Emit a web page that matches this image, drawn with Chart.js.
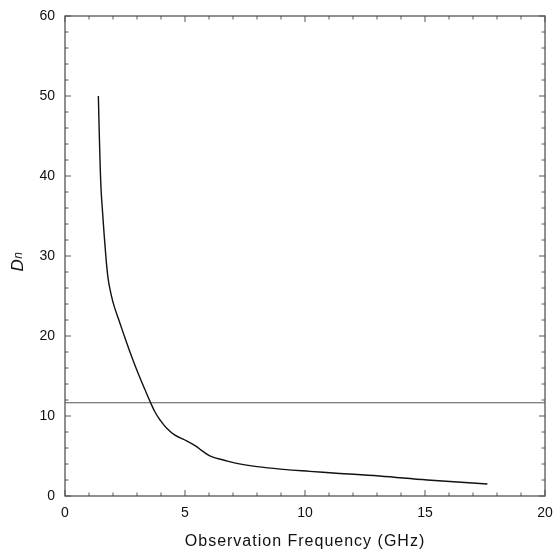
<!DOCTYPE html>
<html>
<head>
<meta charset="utf-8">
<script src="https://cdn.jsdelivr.net/npm/chart.js@4.4.1/dist/chart.umd.min.js"></script>
<style>
  html, body { margin: 0; padding: 0; background: #fff; }
  #wrap { position: relative; width: 554px; height: 558px; }
</style>
</head>
<body>
<div id="wrap"><canvas id="grafico"></canvas></div>
<script>
// datos
var frecuencias = [1.39, 1.44, 1.50, 1.57, 1.67, 1.79, 1.92, 2.05, 2.29, 2.53, 2.78, 3.05, 3.33, 3.56, 3.75, 3.96, 4.24, 4.58, 5.0, 5.42, 5.76, 6.11, 6.6, 7.15, 8.0, 9.1, 10.2, 11.3, 13.1, 15.1, 17.6];
var valoresDn = [50.0, 44.0, 38.5, 35.3, 31.2, 27.3, 25.2, 23.7, 21.6, 19.5, 17.4, 15.3, 13.3, 11.7, 10.5, 9.5, 8.46, 7.6, 7.0, 6.29, 5.54, 4.91, 4.5, 4.08, 3.67, 3.33, 3.08, 2.85, 2.5, 2.0, 1.5];
var umbralX = [0, 20];
var umbralY = [11.66, 11.66];
var ticksX = [0, 5, 10, 15, 20];
var ticksY = [0, 10, 20, 30, 40, 50, 60];

var colorEje = '#555555';
var fuente = "'Liberation Sans', Arial, sans-serif";

function armarPuntos(xs, ys) {
    var pts = [];
    for (var i = 0; i < xs.length; i++) {
        pts.push({ x: xs[i], y: ys[i] });
    }
    return pts;
}

// marco, ticks hacia dentro y titulos de ejes
const marcoPlugin = {
    id: 'marco',
    afterDraw: function (chart) {
        var ctx = chart.ctx;
        var a = chart.chartArea;
        var sx = chart.scales.x;
        var sy = chart.scales.y;
        ctx.save();
        ctx.strokeStyle = colorEje;
        ctx.lineWidth = 1.3;
        ctx.strokeRect(a.left, a.top, a.right - a.left, a.bottom - a.top);

        ctx.lineWidth = 1;
        ctx.beginPath();
        for (var v = 0; v <= 20; v += 1) {
            var px = sx.getPixelForValue(v);
            var len = (v % 5 == 0) ? 6 : 3.5;
            ctx.moveTo(px, a.bottom); ctx.lineTo(px, a.bottom - len);
            ctx.moveTo(px, a.top); ctx.lineTo(px, a.top + len);
        }
        for (var w = 0; w <= 60; w += 2) {
            var py = sy.getPixelForValue(w);
            var len2 = (w % 10 == 0) ? 6 : 3.5;
            ctx.moveTo(a.left, py); ctx.lineTo(a.left + len2, py);
            ctx.moveTo(a.right, py); ctx.lineTo(a.right - len2, py);
        }
        ctx.stroke();

        // titulo eje x
        ctx.fillStyle = '#111';
        ctx.font = '16px ' + fuente;
        ctx.textAlign = 'center';
        ctx.textBaseline = 'middle';
        if ('letterSpacing' in ctx) ctx.letterSpacing = '1px';
        ctx.fillText('Observation Frequency (GHz)', (a.left + a.right) / 2, 542);
        if ('letterSpacing' in ctx) ctx.letterSpacing = '0px';

        // titulo eje y: D con n
        ctx.translate(23, 262);
        ctx.rotate(-Math.PI / 2);
        ctx.textAlign = 'left';
        ctx.textBaseline = 'alphabetic';
        ctx.font = 'italic 17px ' + fuente;
        var anchoD = ctx.measureText('D').width;
        ctx.font = 'italic 12px ' + fuente;
        var anchoN = ctx.measureText('n').width;
        var inicio = -(anchoD + anchoN) / 2;
        ctx.font = 'italic 17px ' + fuente;
        ctx.fillText('D', inicio, 0);
        ctx.font = 'italic 12px ' + fuente;
        ctx.fillText('n', inicio + anchoD + 0.5, -1);
        ctx.restore();
    }
};

const grafico = new Chart('grafico', {
    type: 'scatter',
    data: {
        datasets: [{
            label: 'Dn',
            data: armarPuntos(frecuencias, valoresDn),
            showLine: true,
            borderColor: '#111111',
            borderWidth: 1.4,
            pointRadius: 0,
            tension: 0.4
        }, {
            label: 'umbral',
            data: armarPuntos(umbralX, umbralY),
            showLine: true,
            borderColor: '#555555',
            borderWidth: 1.1,
            pointRadius: 0
        }]
    },
    options: {
        responsive: true,
        maintainAspectRatio: false,
        animation: false,
        layout: { padding: { left: 39, right: 9, top: 16, bottom: 36 } },
        plugins: {
            legend: { display: false },
            tooltip: { enabled: false }
        },
        scales: {
            x: {
                type: 'linear',
                min: 0,
                max: 20,
                grid: { display: false, drawTicks: false },
                border: { display: false },
                afterBuildTicks: function (scale) {
                    scale.ticks = ticksX.map(function (v) { return { value: v }; });
                },
                afterFit: function (scale) {
                    scale.height = 26;
                    scale.paddingLeft = 0;
                    scale.paddingRight = 0;
                },
                ticks: {
                    color: '#111',
                    font: { family: fuente, size: 14 },
                    padding: 9,
                    maxRotation: 0
                }
            },
            y: {
                type: 'linear',
                min: 0,
                max: 60,
                grid: { display: false, drawTicks: false },
                border: { display: false },
                afterBuildTicks: function (scale) {
                    scale.ticks = ticksY.map(function (v) { return { value: v }; });
                },
                afterFit: function (scale) {
                    scale.width = 26;
                    scale.paddingTop = 0;
                    scale.paddingBottom = 0;
                },
                ticks: {
                    color: '#111',
                    font: { family: fuente, size: 14 },
                    padding: 10
                }
            }
        }
    },
    plugins: [marcoPlugin]
});
</script>
</body>
</html>
